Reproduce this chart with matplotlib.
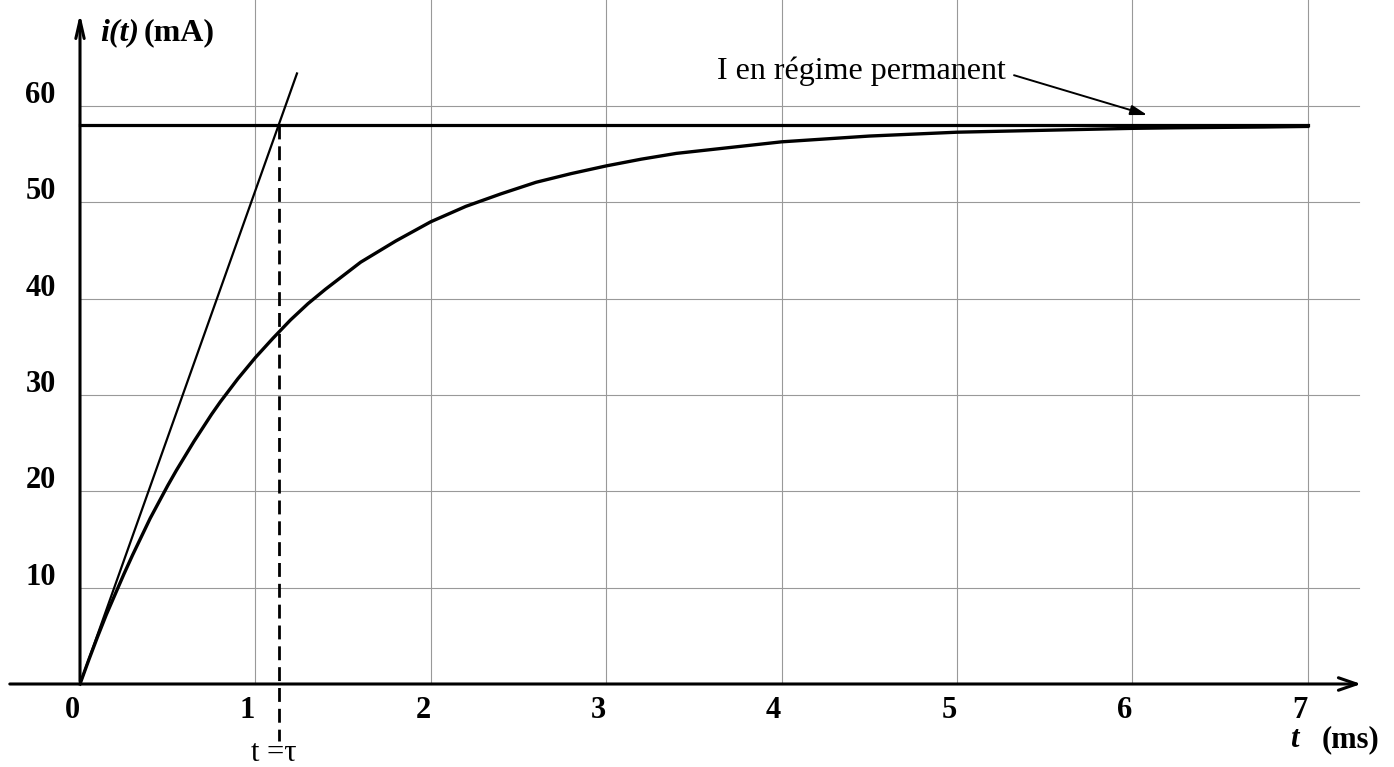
import numpy as np
import matplotlib.pyplot as plt

plt.rcParams['font.family'] = ['Liberation Serif', 'DejaVu Serif']

# courbe i(t) (t en ms, i en mA)
t_ms = [0, 0.05, 0.1, 0.15, 0.2, 0.25, 0.3, 0.35, 0.4, 0.45, 0.5, 0.55, 0.6, 0.65,
        0.7, 0.75, 0.8, 0.85, 0.9, 0.95, 1.0, 1.1, 1.2, 1.3, 1.4, 1.5, 1.6, 1.7,
        1.8, 1.9, 2.0, 2.2, 2.4, 2.6, 2.8, 3.0, 3.2, 3.4, 3.6, 3.8, 4.0, 4.25,
        4.5, 4.75, 5.0, 5.25, 5.5, 5.75, 6.0, 6.25, 6.5, 6.75, 7.0]
i_mA = [0, 2.5, 4.9, 7.2, 9.3, 11.4, 13.4, 15.3, 17.2, 18.9, 20.6, 22.2, 23.7, 25.2,
        26.6, 28.0, 29.3, 30.5, 31.7, 32.8, 33.9, 35.9, 37.8, 39.5, 41.0, 42.4, 43.8, 44.9,
        46.0, 47.0, 48.0, 49.6, 50.9, 52.1, 53.0, 53.8, 54.5, 55.1, 55.5, 55.9, 56.3, 56.6,
        56.9, 57.1, 57.3, 57.4, 57.5, 57.6, 57.7, 57.76, 57.8, 57.84, 57.9]
I_perm = 58
tau = 1.135
tangente_t = [0, 1.237]
tangente_i = [0, 63.4]
x_ticks = [0, 1, 2, 3, 4, 5, 6, 7]
y_ticks = [10, 20, 30, 40, 50, 60]

fig = plt.figure(figsize=(13.94, 7.67), dpi=100)
ax = fig.add_axes([0, 0, 1, 1])
ax.set_xlim(-80 / 175.4, (1394 - 80) / 175.4)
ax.set_ylim(-83 / 9.63, 684 / 9.63)
ax.axis('off')

# grille
for x in x_ticks[1:]:
    ax.plot([x, x], [0, 71], color='#999999', lw=0.8, zorder=1)
for y in y_ticks:
    ax.plot([0, 7.29], [y, y], color='#999999', lw=0.8, zorder=1)

# axes avec flèches
ax.annotate('', xy=(7.32, 0), xytext=(-0.416, 0),
            arrowprops=dict(arrowstyle='->,head_length=1.3,head_width=0.45', lw=2.2, color='black'))
ax.annotate('', xy=(0, 69.9), xytext=(0, 0),
            arrowprops=dict(arrowstyle='->,head_length=1.3,head_width=0.3', lw=2.2, color='black'))

# courbe, asymptote, tangente
ax.plot(t_ms, i_mA, color='black', lw=2.4, zorder=3, solid_joinstyle='round')
ax.plot([0, 7], [I_perm, I_perm], color='black', lw=2.3, zorder=3)
ax.plot(tangente_t, tangente_i, color='black', lw=1.6, zorder=3)
ax.plot([tau, tau], [I_perm, -5.9], color='black', lw=2.0, ls=(0, (5, 2.5)), zorder=3)

# graduations
for x in x_ticks:
    ax.text(x - 0.045, -2.8, str(x), fontsize=22, fontweight='bold', ha='center', va='center')
for y in y_ticks:
    ax.text(-0.225, y + 1.1, str(y), fontsize=22, fontweight='bold', ha='center', va='center')

# titres des axes
ax.text(0.114, 67.6, 'i(t)', fontsize=23, fontweight='bold', style='italic', ha='left', va='center')
ax.text(0.36, 67.6, '(mA)', fontsize=23, fontweight='bold', ha='left', va='center')
ax.text(6.90, -5.75, 't', fontsize=22, fontweight='bold', style='italic', ha='left', va='center')
ax.text(7.08, -5.75, '(ms)', fontsize=22, fontweight='bold', ha='left', va='center')
ax.text(tau - 0.03, -7.2, 't =\u03c4', fontsize=22, ha='center', va='center')

# annotation du régime permanent
ax.text(3.63, 63.6, 'I en régime permanent', fontsize=23, ha='left', va='center')
ax.annotate('', xy=(6.10, 59.0), xytext=(5.31, 63.3),
            arrowprops=dict(arrowstyle='-|>,head_length=1.0,head_width=0.3', lw=1.4, color='black'))

fig.savefig('out.png', dpi=100)
